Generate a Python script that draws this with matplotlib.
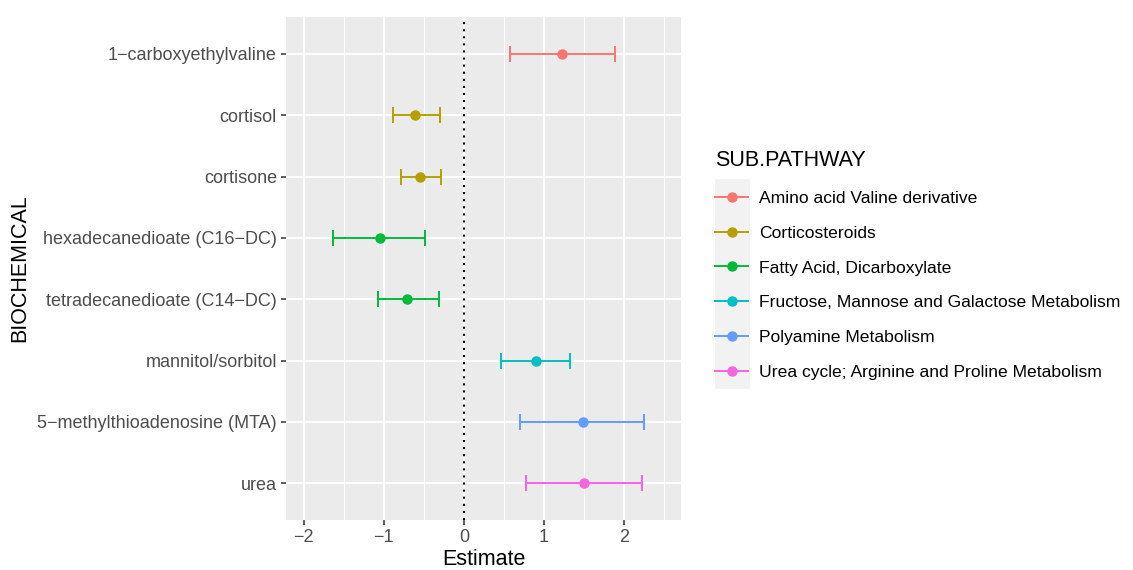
import matplotlib.pyplot as plt
from matplotlib.lines import Line2D
from matplotlib.patches import Rectangle
import numpy as np

biochemicals = ['1\u2212carboxyethylvaline', 'cortisol', 'cortisone',
                'hexadecanedioate (C16\u2212DC)', 'tetradecanedioate (C14\u2212DC)',
                'mannitol/sorbitol', '5\u2212methylthioadenosine (MTA)', 'urea']
pathway = ['Amino acid Valine derivative', 'Corticosteroids', 'Corticosteroids',
           'Fatty Acid, Dicarboxylate', 'Fatty Acid, Dicarboxylate',
           'Fructose, Mannose and Galactose Metabolism', 'Polyamine Metabolism',
           'Urea cycle; Arginine and Proline Metabolism']
estimate = [1.22, -0.61, -0.545, -1.05, -0.71, 0.90, 1.49, 1.50]
ci_low = [0.58, -0.89, -0.79, -1.63, -1.075, 0.47, 0.70, 0.77]
ci_high = [1.89, -0.30, -0.29, -0.48, -0.31, 1.33, 2.25, 2.23]

pathways = ['Amino acid Valine derivative', 'Corticosteroids', 'Fatty Acid, Dicarboxylate',
            'Fructose, Mannose and Galactose Metabolism', 'Polyamine Metabolism',
            'Urea cycle; Arginine and Proline Metabolism']
colors = ['#F8766D', '#B79F00', '#00BA38', '#00BFC4', '#619CFF', '#F564E3']
cmap = dict(zip(pathways, colors))

plt.rcParams['font.family'] = ['Liberation Sans', 'DejaVu Sans']

fig = plt.figure(figsize=(11.33, 5.7), dpi=100)
ax = fig.add_axes([0.2524, 0.0877, 0.601 - 0.2524, 0.970 - 0.0877])
ax.set_facecolor('#EBEBEB')

ypos = np.arange(len(biochemicals))
for i in range(len(biochemicals)):
    c = cmap[pathway[i]]
    ax.errorbar(estimate[i], ypos[i],
                xerr=[[estimate[i] - ci_low[i]], [ci_high[i] - estimate[i]]],
                fmt='o', color=c, ecolor=c, markersize=6.5, elinewidth=1.4,
                capsize=5.5, capthick=1.4, zorder=3)

ax.axvline(0, color='black', linestyle=(0, (1, 2.4)), linewidth=1.5, zorder=2)

ax.set_xlim(-2.22, 2.71)
ax.set_ylim(len(biochemicals) - 0.4, -0.6)
ax.set_xticks([-2, -1, 0, 1, 2])
ax.set_xticklabels(['\u22122', '\u22121', '0', '1', '2'])
ax.set_xticks([-1.5, -0.5, 0.5, 1.5, 2.5], minor=True)
ax.set_yticks(ypos)
ax.set_yticklabels(biochemicals)
ax.grid(which='major', color='white', linewidth=1.4, zorder=0)
ax.grid(which='minor', axis='x', color='white', linewidth=0.7, zorder=0)
ax.set_axisbelow(True)
for s in ax.spines.values():
    s.set_visible(False)
ax.tick_params(axis='both', which='major', color='#333333', length=3.5, width=1.1,
               labelcolor='#4D4D4D', labelsize=13, pad=3)
ax.tick_params(axis='x', which='minor', length=0)
ax.set_xlabel('Estimate', fontsize=15.5, labelpad=2)
ax.set_ylabel('BIOCHEMICAL', fontsize=15.5, labelpad=5)

# legend
handles = [Line2D([0], [0], color=c, marker='o', markersize=6.5, linewidth=1.4) for c in colors]
fig.patches.append(Rectangle((715 / 1133, 1 - 389 / 570), 35 / 1133, 210 / 570,
                             transform=fig.transFigure, facecolor='#F2F2F2',
                             edgecolor='none', zorder=0))
leg = fig.legend(handles, pathways, title='SUB.PATHWAY', loc='upper left',
                 bbox_to_anchor=(708 / 1133, 1 - 143 / 570), frameon=False,
                 fontsize=12.6, title_fontsize=15.5, handlelength=1.9,
                 labelspacing=1.12, handletextpad=0.6, borderaxespad=0)
leg._legend_box.align = 'left'

fig.savefig('out.png', dpi=100)
